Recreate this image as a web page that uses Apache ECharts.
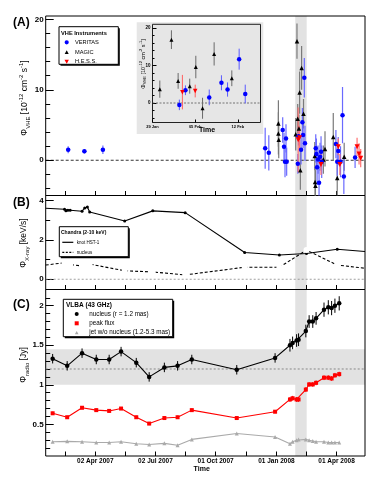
<!DOCTYPE html>
<html>
<head>
<meta charset="utf-8">
<script src="https://cdn.jsdelivr.net/npm/echarts@6/dist/echarts.min.js"></script>
<style>
html, body { margin: 0; padding: 0; background: #fff; }
#main { width: 382px; height: 487px; }
</style>
</head>
<body>
<div id="main"></div>
<script>
// time axis (MJD) and its labels
var xRange = [54117, 54600];
var xTicks = [54146, 54192, 54237, 54283, 54328, 54374, 54420, 54466, 54511, 54557];
var xLabelValues = [54192, 54283, 54374, 54466, 54557];
var xLabels = ['02 Apr 2007', '02 Jul 2007', '01 Oct 2007', '01 Jan 2008', '01 Apr 2008'];
var insetRange = [54494, 54511.7];
var insetLabelValues = [54494, 54501, 54508];
var insetLabels = ['29 Jan', '05 Feb', '12 Feb'];
var flareBand = [54494.5, 54511.8];

// (A) VHE flux: [MJD, flux, flux error, time error]
var veritas = [
	[54151, 1.5, 0.5, 3], [54175.5, 1.27, 0.3, 3], [54203.5, 1.5, 0.6, 3],
	[54449, 1.7, 2.9, 0], [54454.5, 1.05, 2.5, 0], [54475.5, 4.3, 1.8, 0],
	[54477.5, 1.9, 2.0, 0], [54479, -0.2, 2.2, 0], [54480.5, 3.1, 2.0, 0],
	[54481.5, -0.2, 2.0, 0], [54498.4, -0.5, 1.4, 0], [54499.4, 3.4, 1.3, 0],
	[54503.3, 1.5, 2.1, 0], [54505.3, 5.4, 2.0, 0], [54506.3, 3.6, 1.9, 0],
	[54508.2, 11.7, 2.8, 0], [54509.2, 2.4, 2.5, 0], [54525.5, 1.7, 2.0, 0],
	[54526.5, 0.9, 2.2, 0], [54527.5, -1.0, 2.5, 0], [54529, 0.1, 2.0, 0],
	[54530.5, -3.2, 2.3, 0], [54532, 0.5, 2.0, 0], [54533.5, 1.2, 2.2, 0],
	[54534.5, -0.2, 2.3, 0], [54556, 2.3, 2.0, 0], [54558, -0.2, 2.0, 0],
	[54559.5, 1.3, 2.0, 0], [54563, -0.2, 2.2, 0], [54566, 6.4, 4.0, 0],
	[54568, -2.3, 2.5, 0], [54585, 0.4, 1.5, 0]
];
var magic = [
	[54469, 5.2, 3.3, 0], [54469, 3.8, 3.0, 0], [54469.5, 2.9, 2.6, 0],
	[54495.2, 3.7, 2.3, 0], [54497.1, 16.9, 2.5, 0], [54498.2, 5.9, 2.1, 0],
	[54500.1, 4.5, 2.0, 0], [54501.1, 9.6, 3.0, 0], [54502.2, -1.4, 2.8, 0],
	[54504.1, 13.1, 3.1, 0], [54507.0, 6.6, 2.1, 0], [54524, 0.6, 2.0, 0],
	[54524.5, -3.1, 2.0, 0], [54525, -3.6, 2.2, 0], [54537, 0.1, 2.0, 0],
	[54539.5, 1.6, 2.5, 0], [54552, 3.3, 3.4, 0], [54558, -2.5, 2.5, 0],
	[54568.5, 0.5, 2.0, 0]
];
var hess = [
	[54498.9, 2.9, 4.6, 0], [54501.0, 3.2, 1.7, 0], [54533.4, -0.6, 1.5, 0],
	[54559.5, 1.9, 1.2, 0], [54562, -0.6, 1.5, 0], [54588, 1.9, 1.3, 0],
	[54591, 0.9, 1.5, 0], [54593.5, 0.3, 1.3, 0]
];

// (B) Chandra rates, first and last entries sit on the frame edges
var chandraTimes = [54117, 54145.5, 54147.5, 54150.5, 54154, 54172, 54176, 54180, 54183.5,
	54236.5, 54279, 54328, 54418, 54470.5, 54511.5, 54558, 54600];
var hst1Rate = [3.6, 3.55, 3.47, 3.5, 3.5, 3.45, 3.62, 3.67, 3.41,
	2.96, 3.47, 3.38, 1.36, 1.23, 1.31, 1.52, 1.41];
var nucleusRate = [0.72, 0.84, 0.6, 0.67, 0.75, 0.67, 0.7, 0.74, 0.77,
	0.43, 0.37, 0.22, 0.61, 0.61, 1.48, 0.72, 0.56];

// (C) VLBA 43 GHz
var radioTimes = [54127.5, 54149.5, 54172, 54193.5, 54213, 54231, 54254, 54273.5, 54296.5,
	54316.5, 54338, 54406, 54464, 54486.5, 54490.5, 54496.5, 54499.5, 54510.5, 54515.5,
	54521, 54526, 54538, 54544.5, 54549.5, 54554.5, 54561];
var radioNucleus = [1.33, 1.24, 1.40, 1.32, 1.32, 1.42, 1.28, 1.10, 1.22, 1.24, 1.32, 1.19,
	1.34, 1.50, 1.53, 1.56, 1.57, 1.68, 1.80, 1.80, 1.84, 1.95, 1.98, 1.97, 2.00, 2.03];
var radioNucleusErr = [0.06, 0.06, 0.06, 0.06, 0.06, 0.06, 0.06, 0.06, 0.06, 0.06, 0.06, 0.06,
	0.06, 0.08, 0.08, 0.08, 0.08, 0.08, 0.08, 0.08, 0.08, 0.09, 0.09, 0.09, 0.09, 0.09];
var radioPeak = [0.64, 0.59, 0.71, 0.68, 0.67, 0.70, 0.59, 0.51, 0.58, 0.59, 0.68, 0.58,
	0.66, 0.815, 0.83, 0.815, 0.815, 0.94, 1.005, 1.005, 1.025, 1.09, 1.09, 1.08, 1.12, 1.135];
var radioPeakErr = [0.02, 0.02, 0.02, 0.02, 0.02, 0.02, 0.02, 0.02, 0.02, 0.02, 0.02, 0.02,
	0.02, 0.03, 0.03, 0.03, 0.03, 0.03, 0.03, 0.03, 0.03, 0.03, 0.03, 0.03, 0.03, 0.03];
var radioJet = [0.28, 0.285, 0.28, 0.27, 0.27, 0.28, 0.255, 0.245, 0.26, 0.235, 0.31, 0.385,
	0.34, 0.255, 0.28, 0.30, 0.31, 0.31, 0.30, 0.29, 0.28, 0.28, 0.27, 0.27, 0.27, 0.27];
var radioMean = 1.2;
var radioBand = [1.0, 1.45];

// y ticks
var vheMajor = [0, 10, 20];
var vheMinor = [-4, -2, 2, 4, 6, 8, 12, 14, 16, 18];
var xrayMajor = [0, 2, 4];
var xrayMinor = [1, 3];
var radioMajor = [0.5, 1, 1.5, 2];
var radioMinor = [0.2, 0.3, 0.4, 0.6, 0.7, 0.8, 0.9, 1.1, 1.2, 1.3, 1.4, 1.6, 1.7, 1.8, 1.9, 2.1];

var font = "'Liberation Sans', Arial, Helvetica, sans-serif";
var bandColor = '#e2e2e2';

function xAxisFor(grid, range, ticks, labelValues, labels, opts) {
	return {
		type: 'value', gridIndex: grid, min: range[0], max: range[1], position: 'bottom',
		axisLine: { show: false, onZero: false },
		splitLine: { show: false },
		axisTick: { inside: true, length: opts.tickLen, customValues: ticks, lineStyle: { color: '#000', width: 1 } },
		axisLabel: {
			show: opts.labels, customValues: labelValues, margin: opts.margin || 2,
			fontSize: opts.fontSize || 6.5, fontWeight: 'bold', color: '#000', fontFamily: font,
			formatter: function (v) {
				var i = labelValues.indexOf(v);
				return i >= 0 ? labels[i] : '';
			}
		}
	};
}

function yAxisFor(grid, min, max, ticks, tickLen, labelSize, labelMargin) {
	return {
		type: 'value', gridIndex: grid, min: min, max: max, position: 'left',
		axisLine: { show: false, onZero: false },
		splitLine: { show: false },
		axisTick: { inside: true, length: tickLen, customValues: ticks, lineStyle: { color: '#000', width: 1 } },
		axisLabel: {
			show: labelSize > 0, customValues: ticks, margin: labelMargin,
			fontSize: labelSize || 8, fontWeight: 'bold', color: '#000', fontFamily: font
		}
	};
}

function errorBars(color, width) {
	return function (params, api) {
		var x = api.value(0), y = api.value(1), e = api.value(2), xe = api.value(3);
		var lo = api.coord([x, y - e]);
		var hi = api.coord([x, y + e]);
		var kids = [{ type: 'line', shape: { x1: lo[0], y1: lo[1], x2: hi[0], y2: hi[1] }, style: { stroke: color, lineWidth: width } }];
		if (xe > 0) {
			var l = api.coord([x - xe, y]);
			var r = api.coord([x + xe, y]);
			kids.push({ type: 'line', shape: { x1: l[0], y1: l[1], x2: r[0], y2: r[1] }, style: { stroke: color, lineWidth: width } });
		}
		return { type: 'group', children: kids };
	};
}

function errSeries(xi, yi, data, color, width) {
	return {
		type: 'custom', xAxisIndex: xi, yAxisIndex: yi, data: data, clip: true, z: 2, silent: true,
		renderItem: errorBars(color, width)
	};
}

function vBandSeries(xi, yi) {
	return {
		type: 'custom', xAxisIndex: xi, yAxisIndex: yi, data: [flareBand], z: -1, silent: true,
		encode: { x: [0, 1] },
		renderItem: function (params, api) {
			var cs = params.coordSys;
			var a = api.coord([api.value(0), 0])[0];
			var b = api.coord([api.value(1), 0])[0];
			return { type: 'rect', shape: { x: a, y: cs.y, width: b - a, height: cs.height }, style: { fill: bandColor } };
		}
	};
}

function hLineSeries(xi, yi, level, color, width, dash) {
	return {
		type: 'custom', xAxisIndex: xi, yAxisIndex: yi, data: [[level]], z: 1, silent: true,
		encode: { y: 0 },
		renderItem: function (params, api) {
			var cs = params.coordSys;
			var y = api.coord([xRange[0], api.value(0)])[1];
			return { type: 'line', shape: { x1: cs.x, y1: y, x2: cs.x + cs.width, y2: y }, style: { stroke: color, lineWidth: width, lineDash: dash } };
		}
	};
}

function scatterSeries(xi, yi, data, symbol, size, color, rotate) {
	return {
		type: 'scatter', xAxisIndex: xi, yAxisIndex: yi, data: data, symbol: symbol, symbolSize: size,
		symbolRotate: rotate || 0, itemStyle: { color: color, opacity: 1 }, z: 3, silent: true
	};
}

var chandraHst1 = chandraTimes.map(function (t, i) { return [t, hst1Rate[i]]; });
var chandraNucleus = chandraTimes.map(function (t, i) { return [t, nucleusRate[i]]; });
var nucleusPts = radioTimes.map(function (t, i) { return [t, radioNucleus[i], radioNucleusErr[i], 0]; });
var peakPts = radioTimes.map(function (t, i) { return [t, radioPeak[i], radioPeakErr[i], 0]; });
var jetPts = radioTimes.map(function (t, i) { return [t, radioJet[i]]; });
var lastChandra = chandraTimes.length - 1;
function edgeless(size) {
	return function (v, p) { return (p.dataIndex === 0 || p.dataIndex === lastChandra) ? 0 : size; };
}

var series = [
	// (A)
	vBandSeries(0, 0),
	hLineSeries(0, 0, 0, '#000', 0.8, [3, 2]),
	errSeries(0, 0, magic, '#7a7a7a', 1.2),
	errSeries(0, 0, veritas, '#6a6aff', 1.2),
	errSeries(0, 0, hess, '#ff7070', 1.2),
	scatterSeries(0, 0, magic, 'triangle', 4.5, '#000'),
	scatterSeries(0, 0, veritas, 'circle', 4.5, '#0000ff'),
	scatterSeries(0, 0, hess, 'triangle', 5, '#ff0000', 180),
	// (B)
	vBandSeries(1, 2),
	hLineSeries(1, 2, 0, '#888', 0.8, [2, 2]),
	{
		type: 'line', xAxisIndex: 1, yAxisIndex: 2, data: chandraHst1, symbol: 'circle',
		symbolSize: edgeless(3), showSymbol: true, lineStyle: { color: '#000', width: 1.1 },
		itemStyle: { color: '#000' }, z: 3, silent: true
	},
	{
		type: 'line', xAxisIndex: 1, yAxisIndex: 2, data: chandraNucleus, symbol: 'emptyCircle',
		symbolSize: edgeless(4), showSymbol: true, lineStyle: { color: '#000', width: 1.1, type: [3, 2] },
		itemStyle: { color: '#fff', borderColor: '#000', borderWidth: 0.8 }, z: 3, silent: true
	},
	// (C)
	vBandSeries(2, 4),
	{
		type: 'custom', xAxisIndex: 2, yAxisIndex: 4, data: [radioBand], z: -1, silent: true,
		encode: { y: [0, 1] },
		renderItem: function (params, api) {
			var cs = params.coordSys;
			var a = api.coord([xRange[0], api.value(1)])[1];
			var b = api.coord([xRange[0], api.value(0)])[1];
			return { type: 'rect', shape: { x: cs.x, y: a, width: cs.width, height: b - a }, style: { fill: bandColor } };
		}
	},
	hLineSeries(2, 4, radioMean, '#888', 1, [2, 2]),
	{
		type: 'line', xAxisIndex: 2, yAxisIndex: 4, data: jetPts, symbol: 'triangle', symbolSize: 4,
		lineStyle: { color: '#aaa', width: 1.1 }, itemStyle: { color: '#aaa' }, z: 3, silent: true
	},
	errSeries(2, 4, peakPts, '#ff0000', 1),
	{
		type: 'line', xAxisIndex: 2, yAxisIndex: 4, data: peakPts, symbol: 'rect', symbolSize: 4,
		lineStyle: { color: '#ff0000', width: 1.1 }, itemStyle: { color: '#ff0000' }, z: 3, silent: true
	},
	errSeries(2, 4, nucleusPts, '#000', 1),
	{
		type: 'line', xAxisIndex: 2, yAxisIndex: 4, data: nucleusPts, symbol: 'circle', symbolSize: 4.5,
		lineStyle: { color: '#000', width: 1.1 }, itemStyle: { color: '#000' }, z: 3, silent: true
	},
	// inset
	hLineSeries(3, 6, 0, '#555', 0.8, [2, 1.5]),
	errSeries(3, 6, magic, '#6a6a6a', 1),
	errSeries(3, 6, veritas, '#5a5aff', 1),
	errSeries(3, 6, hess, '#ff6060', 1),
	scatterSeries(3, 6, magic, 'triangle', 4, '#000'),
	scatterSeries(3, 6, veritas, 'circle', 4.5, '#0000ff'),
	scatterSeries(3, 6, hess, 'triangle', 4.5, '#ff0000', 180)
];

function txt(x, y, s, size, bold, align) {
	return {
		type: 'text', x: x, y: y, z: 100,
		style: { text: s, fontSize: size, fontWeight: bold ? 'bold' : 'normal', fontFamily: font, fill: '#000', align: align || 'left', verticalAlign: 'middle' }
	};
}
function box(x, y, w, h) {
	return [
		{ type: 'rect', z: 99, shape: { x: x + 1.5, y: y + 1.5, width: w, height: h }, style: { fill: '#000' } },
		{ type: 'rect', z: 99, shape: { x: x, y: y, width: w, height: h }, style: { fill: '#fff', stroke: '#000', lineWidth: 1 } }
	];
}
function tri(cx, cy, s, color, down) {
	var d = down ? -1 : 1;
	return { type: 'polygon', z: 100, shape: { points: [[cx, cy - d * s], [cx - s, cy + d * s * 0.8], [cx + s, cy + d * s * 0.8]] }, style: { fill: color } };
}
function richSet(big, small, line) {
	return {
		a: { font: big + 'px ' + font, fontSize: big, lineHeight: line },
		s: { font: small + 'px ' + font, fontSize: small, lineHeight: small, verticalAlign: 'bottom' },
		p: { font: small + 'px ' + font, fontSize: small, lineHeight: small, verticalAlign: 'top' }
	};
}
var richTitle = richSet(8.5, 6, 13);
var richSmall = richSet(5.5, 4, 8.5);
function vTitle(x, y, s, rich, size) {
	return {
		type: 'text', x: x, y: y, rotation: Math.PI / 2, z: 100,
		style: { text: s, rich: rich, font: size + 'px ' + font, fontSize: size, fill: '#000', align: 'center', verticalAlign: 'middle' }
	};
}
var vheTitle = '{a|\u03A6}{s|VHE}{a| [10}{p|-12}{a| cm}{p|-2}{a| s}{p|-1}{a|]}';

var graphics = [
	{ type: 'rect', z: -10, shape: { x: 136.7, y: 22.3, width: 126.6, height: 111.7 }, style: { fill: '#e6e6e6' } },
	txt(13, 23, '(A)', 12, true), txt(13, 203, '(B)', 12, true), txt(13, 305, '(C)', 12, true),
	vTitle(25, 98, vheTitle, richTitle, 8.5),
	vTitle(24, 243, '{a|\u03A6}{s|X-ray}{a| [keV/s]}', richTitle, 8.5),
	vTitle(24, 365, '{a|\u03A6}{s|radio}{a| [Jy]}', richTitle, 8.5),
	vTitle(143, 64, vheTitle, richSmall, 5.5),
	txt(207, 130.5, 'Time', 7, true, 'center'),
	txt(201.7, 469.5, 'Time', 7, true, 'center')
]
	.concat(box(59, 26.7, 59.3, 37.6))
	.concat([
		txt(61, 33.3, 'VHE Instruments', 5.7, true),
		{ type: 'circle', z: 100, shape: { cx: 66.7, cy: 42.3, r: 2.1 }, style: { fill: '#0000ff' } },
		txt(75, 42.3, 'VERITAS', 5.7),
		tri(66.7, 52.3, 2, '#000'),
		txt(75, 52.3, 'MAGIC', 5.7),
		tri(66.7, 61.5, 2.2, '#ff0000', true),
		txt(75, 61.5, 'H.E.S.S.', 5.7)
	])
	.concat(box(59.3, 226.7, 69, 30))
	.concat([
		txt(61, 232.7, 'Chandra (2-10 keV)', 5, true),
		{ type: 'line', z: 100, shape: { x1: 62.3, y1: 242.3, x2: 73.3, y2: 242.3 }, style: { stroke: '#000', lineWidth: 1.2 } },
		txt(76.7, 242.3, 'knot HST-1', 4.5),
		{ type: 'line', z: 100, shape: { x1: 62.3, y1: 252.3, x2: 73.3, y2: 252.3 }, style: { stroke: '#000', lineWidth: 1.2, lineDash: [2, 1.5] } },
		txt(76.7, 252.3, 'nucleus', 4.5)
	])
	.concat(box(63.3, 299.3, 109.4, 37.4))
	.concat([
		txt(66, 305, 'VLBA (43 GHz)', 6.5, true),
		{ type: 'circle', z: 100, shape: { cx: 76.7, cy: 314, r: 2 }, style: { fill: '#000' } },
		txt(89.3, 314, 'nucleus (r = 1.2 mas)', 6.3),
		{ type: 'rect', z: 100, shape: { x: 74.7, y: 321.3, width: 4, height: 4 }, style: { fill: '#ff0000' } },
		txt(89.3, 323.3, 'peak flux', 6.3),
		tri(76.7, 332.7, 1.8, '#aaa'),
		txt(89.3, 332.7, 'jet w/o nucleus (1.2-5.3 mas)', 6.3)
	]);

var gridStyle = { show: true, borderColor: '#000', borderWidth: 1, backgroundColor: 'transparent' };
var option = {
	animation: false,
	textStyle: { fontFamily: font },
	grid: [
		Object.assign({ left: 45.7, top: 16, width: 319.3, height: 179.5 }, gridStyle),
		Object.assign({ left: 45.7, top: 195.5, width: 319.3, height: 94 }, gridStyle),
		Object.assign({ left: 45.7, top: 289.5, width: 319.3, height: 166.5 }, gridStyle),
		Object.assign({ left: 152.5, top: 24.3, width: 108, height: 98.2 }, gridStyle, { borderColor: '#222' })
	],
	xAxis: [
		xAxisFor(0, xRange, xTicks, xLabelValues, xLabels, { tickLen: 4.5, labels: false }),
		xAxisFor(1, xRange, xTicks, xLabelValues, xLabels, { tickLen: 4.5, labels: false }),
		xAxisFor(2, xRange, xTicks, xLabelValues, xLabels, { tickLen: 4.5, labels: true }),
		xAxisFor(3, insetRange, insetLabelValues, insetLabelValues, insetLabels, { tickLen: 3, labels: true, fontSize: 4, margin: 2 })
	],
	yAxis: [
		yAxisFor(0, -5, 20.47, vheMajor, 8, 8, 2),
		yAxisFor(0, -5, 20.47, vheMinor, 4.5, 0, 2),
		yAxisFor(1, -0.52, 4.25, xrayMajor, 8, 8, 2),
		yAxisFor(1, -0.52, 4.25, xrayMinor, 4.5, 0, 2),
		yAxisFor(2, 0.1, 2.205, radioMajor, 8, 8, 2),
		yAxisFor(2, 0.1, 2.205, radioMinor, 4.5, 0, 2),
		yAxisFor(3, -5.2, 21, vheMajor, 4, 4.5, 2),
		yAxisFor(3, -5.2, 21, vheMinor, 2, 0, 2)
	],
	series: series,
	graphic: { elements: graphics }
};

var chart = echarts.init(document.getElementById('main'));
chart.setOption(option);
</script>
</body>
</html>
